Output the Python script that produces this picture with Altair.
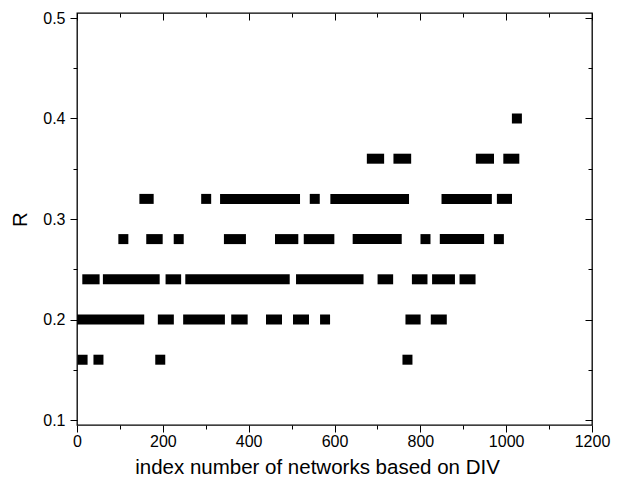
import altair as alt
import pandas as pd

# Runs of consecutive networks sharing the same R value (index start, index end)
r016_start = [13, 50, 194, 770]
r016_end = [13, 50, 194, 770]
r020_start = [12, 200, 259, 371, 452, 515, 578, 777, 836]
r020_end = [145, 214, 333, 386, 466, 529, 578, 789, 850]
r024_start = [24, 72, 218, 264, 522, 712, 792, 839, 903]
r024_end = [41, 181, 231, 484, 656, 725, 805, 869, 917]
r028_start = [108, 173, 237, 354, 473, 540, 654, 812, 857, 983]
r028_end = [108, 188, 237, 382, 504, 588, 745, 812, 937, 983]
r032_start = [157, 301, 345, 554, 602, 861, 990]
r032_end = [167, 301, 508, 554, 762, 955, 1002]
r036_start = [687, 749, 941, 1005]
r036_end = [704, 767, 960, 1019]
r040_start = [1025]
r040_end = [1025]

x_major = [0, 200, 400, 600, 800, 1000, 1200]
x_minor = [100, 300, 500, 700, 900, 1100]
y_major = [0.1, 0.2, 0.3, 0.4, 0.5]
y_minor = [0.15, 0.25, 0.35, 0.45]

rows = [
    (0.16, r016_start, r016_end),
    (0.20, r020_start, r020_end),
    (0.24, r024_start, r024_end),
    (0.28, r028_start, r028_end),
    (0.32, r032_start, r032_end),
    (0.36, r036_start, r036_end),
    (0.40, r040_start, r040_end),
]
recs = []
for r, ss, ee in rows:
    for s, e in zip(ss, ee):
        recs.append({"start": s, "end": e, "r": r})
df = pd.DataFrame(recs)

FONT = "Liberation Sans"
xscale = alt.Scale(domain=[0, 1200], nice=False, zero=False)
yscale = alt.Scale(domain=[0.1, 0.5], nice=False, zero=False)

common = dict(domain=False, grid=False, tickColor="black", tickWidth=1,
              labelFont=FONT, labelFontSize=16, labelColor="black",
              titleFont=FONT, titleFontSize=20.5, titleFontWeight="normal",
              titleColor="black")

base = alt.Chart(df)


def layer(xaxis, yaxis, xtitle, ytitle, opacity):
    xenc = alt.X("start:Q", scale=xscale, axis=xaxis, title=xtitle)
    yenc = alt.Y("r:Q", scale=yscale, axis=yaxis, title=ytitle)
    return base.mark_bar(size=10, xOffset=-5, x2Offset=5, color="black",
                         opacity=opacity, orient="horizontal").encode(
        x=xenc, x2="end:Q", y=yenc)


la = layer(
    alt.Axis(orient="bottom", values=x_major, tickSize=7, labelPadding=1,
             titlePadding=8, labelFlush=False, format="d",
             titleX=240, titleAlign="center", **common),
    alt.Axis(orient="left", values=y_major, tickSize=7, format=".1f",
             labelPadding=5, titlePadding=12, **common),
    "index number of networks based on DIV", "R", 1)
lb = layer(
    alt.Axis(orient="bottom", values=x_minor, tickSize=4, labels=False, **common),
    alt.Axis(orient="left", values=y_minor, tickSize=4, labels=False, **common),
    None, None, 0)
lc = layer(
    alt.Axis(orient="top", values=x_major, tickSize=7, offset=-7, labels=False, **common),
    alt.Axis(orient="right", values=y_major, tickSize=7, offset=-7, labels=False, **common),
    None, None, 0)
ld = layer(
    alt.Axis(orient="top", values=x_minor, tickSize=4, offset=-4, labels=False, **common),
    alt.Axis(orient="right", values=y_minor, tickSize=4, offset=-4, labels=False, **common),
    None, None, 0)

chart = alt.layer(la, lb, lc, ld).resolve_axis(
    x="independent", y="independent"
).properties(
    width=515, height=412,
    autosize=alt.AutoSizeParams(type="none"),
    padding={"left": 69, "top": 5, "right": 20, "bottom": 57},
).configure_view(stroke="black", strokeWidth=1.3)

chart.save("out.html", embed_options={"renderer": "svg", "actions": False})
